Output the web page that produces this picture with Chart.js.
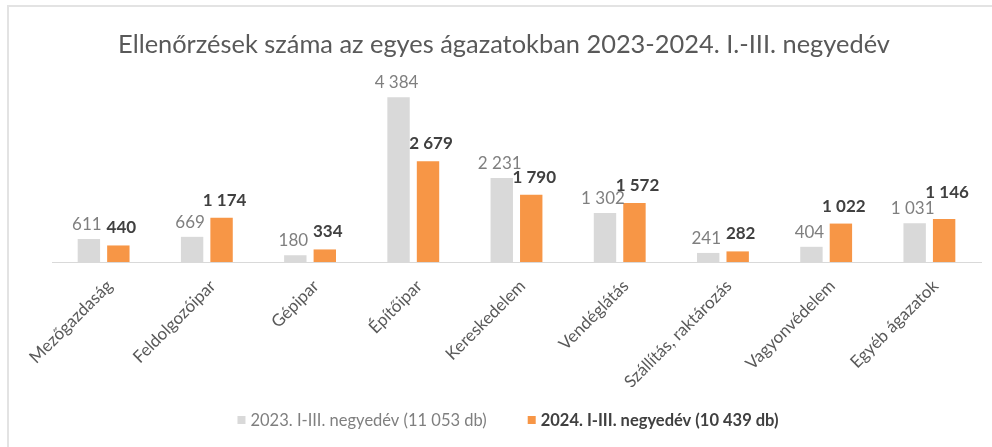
<!DOCTYPE html>
<html>
<head>
<meta charset="utf-8">
<script src="https://cdn.jsdelivr.net/npm/chart.js@4/dist/chart.umd.min.js"></script>
<style>
  html, body { margin: 0; padding: 0; background: #ffffff; }
  #wrap { position: relative; width: 992px; height: 447px; }
</style>
</head>
<body>
<div id="wrap"><canvas id="c" width="992" height="447"></canvas></div>
<script>
const categories = ["Mezőgazdaság", "Feldolgozóipar", "Gépipar", "Építőipar", "Kereskedelem", "Vendéglátás", "Szállítás, raktározás", "Vagyonvédelem", "Egyéb ágazatok"];
const values2023 = [611, 669, 180, 4384, 2231, 1302, 241, 404, 1031];
const values2024 = [440, 1174, 334, 2679, 1790, 1572, 282, 1022, 1146];
const seriesLabels = ["2023. I-III. negyedév (11 053 db)", "2024. I-III. negyedév (10 439 db)"];
const titleText = "Ellenőrzések száma az egyes ágazatokban 2023-2024. I.-III. negyedév";

const FONT = "Lato, 'Open Sans', sans-serif";
const GRAY = "#d9d9d9";
const ORANGE = "#f79646";

function fmtSp(v) {
  return String(v).replace(/\B(?=(\d{3})+(?!\d))/g, " ");
}

const framePlugin = {
  id: "frame",
  beforeDraw(chart) {
    const ctx = chart.ctx;
    ctx.save();
    ctx.fillStyle = "#e3e3e3";
    ctx.fillRect(7, 5, 985, 2);
    ctx.fillRect(7, 5, 2, 442);
    ctx.font = "25.4px " + FONT;
    ctx.fillStyle = "#595959";
    ctx.textAlign = "center";
    ctx.textBaseline = "middle";
    ctx.fillText(titleText, 504, 45);
    ctx.restore();
  }
};

const labelPlugin = {
  id: "valueLabels",
  afterDatasetsDraw(chart) {
    const ctx = chart.ctx;
    ctx.save();
    ctx.textAlign = "center";
    ctx.textBaseline = "alphabetic";
    const m0 = chart.getDatasetMeta(0), m1 = chart.getDatasetMeta(1);
    const d0 = chart.data.datasets[0].data, d1 = chart.data.datasets[1].data;
    const f0 = "17px " + FONT, f1 = "bold 17px " + FONT;
    for (let j = 0; j < d0.length; j++) {
      const t0 = fmtSp(d0[j]), t1 = fmtSp(d1[j]);
      ctx.font = f0;
      const w0 = ctx.measureText(t0).width;
      const a0 = ctx.measureText("0").actualBoundingBoxAscent;
      ctx.font = f1;
      const w1 = ctx.measureText(t1).width;
      const a1 = ctx.measureText("0").actualBoundingBoxAscent;
      const x0 = m0.data[j].x - 2, x1 = m1.data[j].x + 3;
      const y0 = m0.data[j].y - 9;
      let y1 = m1.data[j].y - 12;
      // avoid overlap: lift the 2024 label above the 2023 one
      const hOverlap = (x0 + w0 / 2) > (x1 - w1 / 2) && (x1 + w1 / 2) > (x0 - w0 / 2);
      const vOverlap = (y0 > y1 - a1) && (y1 > y0 - a0);
      if (hOverlap && vOverlap) y1 = y0 - a0 - 3;
      ctx.font = f0;
      ctx.fillStyle = "#7f7f7f";
      ctx.fillText(t0, x0, y0);
      ctx.font = f1;
      ctx.fillStyle = "#404040";
      ctx.fillText(t1, x1, y1);
    }
    ctx.restore();
  }
};

const legendPlugin = {
  id: "customLegend",
  afterDraw(chart) {
    const ctx = chart.ctx;
    ctx.save();
    ctx.textBaseline = "middle";
    ctx.textAlign = "left";
    const y = 420;
    const items = chart.data.datasets.map((ds, i) => ({
      text: ds.label, color: ds.backgroundColor, bold: i === 1
    }));
    const box = 8, gapBox = 5, gapItems = 41;
    const fontOf = it => (it.bold ? "bold " : "") + "16.5px " + FONT;
    let widths = items.map(it => {
      ctx.font = fontOf(it);
      return box + gapBox + ctx.measureText(it.text).width;
    });
    const total = widths.reduce((a, b) => a + b, 0) + gapItems * (items.length - 1);
    let x = 508 - total / 2;
    items.forEach((it, i) => {
      ctx.fillStyle = it.color;
      ctx.fillRect(x, y - box / 2, box, box);
      ctx.font = fontOf(it);
      ctx.fillStyle = it.bold ? "#404040" : "#7f7f7f";
      ctx.fillText(it.text, x + box + gapBox, y + 1);
      x += widths[i] + gapItems;
    });
    ctx.restore();
  }
};

new Chart(document.getElementById("c"), {
  type: "bar",
  data: {
    labels: categories,
    datasets: [
      { label: seriesLabels[0], data: values2023, backgroundColor: GRAY },
      { label: seriesLabels[1], data: values2024, backgroundColor: ORANGE }
    ]
  },
  options: {
    responsive: false,
    animation: false,
    devicePixelRatio: 1,
    layout: { padding: { left: 52, right: 11, top: 74, bottom: 60 } },
    datasets: {
      bar: { categoryPercentage: 0.571, barPercentage: 0.76 }
    },
    plugins: {
      legend: { display: false },
      tooltip: { enabled: false },
      title: { display: false }
    },
    scales: {
      x: {
        grid: { display: false, drawTicks: false },
        border: { display: true, color: "#d9d9d9", width: 1 },
        afterFit(scale) { scale.height = 125; },
        ticks: {
          color: "#595959",
          font: { family: FONT, size: 17 },
          minRotation: 45,
          maxRotation: 45,
          autoSkip: false,
          padding: 14,
          labelOffset: 6
        }
      },
      y: {
        display: false,
        min: 0,
        max: 5000
      }
    }
  },
  plugins: [framePlugin, labelPlugin, legendPlugin]
});
</script>
</body>
</html>
